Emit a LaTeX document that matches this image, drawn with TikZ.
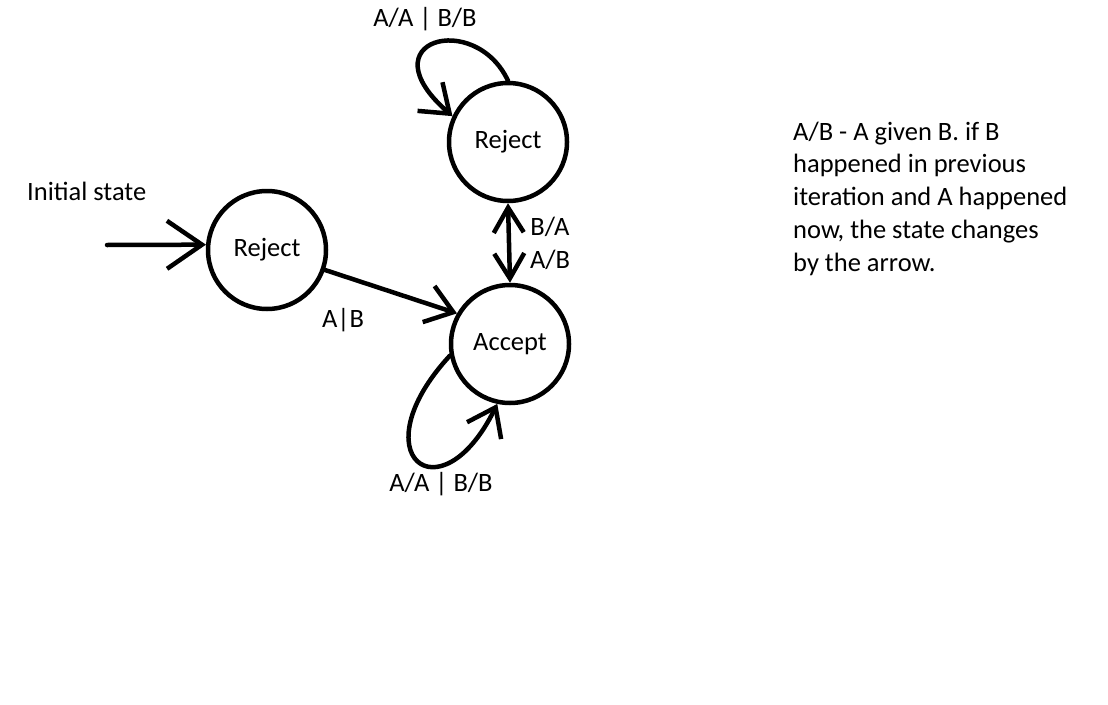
\documentclass[tikz,border=0pt]{standalone}
\usepackage{fontspec}
\setmainfont{Carlito}
\usetikzlibrary{arrows.meta}
\tikzset{
  state/.style={draw, circle, line width=4.5pt, minimum size=118pt, inner sep=0pt},
  lbl/.style={anchor=base, inner sep=0pt},
  edge/.style={line width=4.5pt, line cap=round, -{Straight Barb[length=26pt,width=38pt]}},
  bigedge/.style={line width=4.5pt, line cap=round, -{Straight Barb[length=35pt,width=48pt]}},
}
\begin{document}
\begin{tikzpicture}[x=1pt, y=-1pt, font=\fontsize{26.5}{32.7}\selectfont]
\useasboundingbox (0,0) rectangle (1108,704);
\node[state] (rejL) at (267,250) {Reject};
\node[state] (rejT) at (508,142) {Reject};
\node[state] (acc) at (510,344) {Accept};
\coordinate (init) at (107,245);
\node[anchor=base west, inner sep=0pt] (initlbl) at (27,200) {Initial state};
\draw[bigedge] (init) -- (rejL.175);
\draw[edge] (rejL.-19) -- (acc.150);
\draw[edge, {Straight Barb[length=25pt,width=30pt]}-{Straight Barb[length=25pt,width=30pt]}] (rejT.south) -- (acc.north);
\draw[edge] (rejT.90) .. controls (475,10) and (365,40) .. (rejT.155);
\draw[edge] (acc.191) .. controls (358,455) and (440,520) .. (acc.258);
\node[lbl] (lab1) at (343,327) {A|B};
\node[lbl] (lab2) at (550,235) {B/A};
\node[lbl] (lab3) at (550,268) {A/B};
\node[lbl] (lab4) at (425,27) {A/A | B/B};
\node[lbl] (lab5) at (441,491) {A/A | B/B};
\node[anchor=base west, inner sep=0pt, align=left] (note) at (793,271)
  {A/B - A given B. if B\\happened in previous\\iteration and A happened\\now, the state changes\\by the arrow.};
\end{tikzpicture}
\end{document}
